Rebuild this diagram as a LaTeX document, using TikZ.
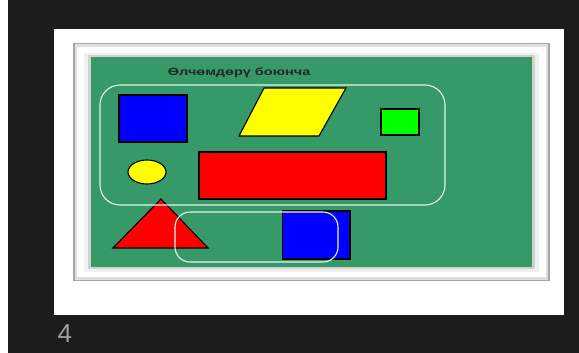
\documentclass[tikz,border=0pt]{standalone}
\usepackage{fontspec}
\setmainfont{Liberation Sans}
\usepackage{tikz}
\usetikzlibrary{positioning, shapes.geometric}
\usepackage{xcolor}
\definecolor{slidedark}{HTML}{1C1C1C}
\definecolor{board}{HTML}{359A68}
\definecolor{pureblue}{HTML}{0000FF}
\definecolor{purered}{HTML}{FF0000}
\definecolor{pureyellow}{HTML}{FFFF00}
\definecolor{puregreen}{HTML}{00FF00}
\tikzset{
    figure/.style={draw=black, line width=1.1pt},
    group/.style={draw=white!88!board, line width=1.1pt},
}

\begin{document}
\begin{tikzpicture}[x=1pt, y=-1pt]
    % Page and slide
    \useasboundingbox (0,0) rectangle (579,353);
    \fill[white] (0,0) rectangle (579,353);
    \fill[slidedark] (8,0) rectangle (579,353);
    \fill[white] (54,29) rectangle (564,315);

    % Frame round the board
    \fill[gray!70] (73,43) rectangle (549.5,281);
    \fill[gray!25] (74.5,44.5) rectangle (548,279.5);
    \fill[white] (77,47) rectangle (545.5,277);
    \fill[gray!12] (84,53) rectangle (539,272);
    \fill[gray!35] (88,55) rectangle (535,269);
    \fill[board] (91,57) rectangle (532,267);

    % Title
    \node[font=\bfseries\fontsize{10.5}{12}\selectfont, text=black!85, xscale=1.38, anchor=west] (title) at (163,73) {Өлчөмдөрү боюнча};

    % Shapes
    \draw[figure, fill=pureblue] (119,95) rectangle (187,142);
    \draw[figure, fill=pureyellow] (264,88) -- (346,88) -- (319,136) -- (239,136) -- cycle;
    \draw[figure, fill=puregreen] (381,109) rectangle (419,135);
    \draw[figure, fill=pureyellow] (147,172) ellipse (19 and 12);
    \draw[figure, fill=purered] (199,152) rectangle (386,199);
    \draw[figure, fill=purered] (161,199) -- (208,248) -- (113,248) -- cycle;
    \draw[figure, fill=pureblue] (282.5,211) rectangle (350,259);

    % Groups
    \draw[group, rounded corners=20pt] (100,85) rectangle (445,205);
    \draw[group, rounded corners=15pt] (175,212) rectangle (338,262);

    % Slide number
    \node[font=\fontsize{26}{28}\selectfont, text=gray!75, anchor=west] (slideno) at (54,334) {4};
\end{tikzpicture}
\end{document}
